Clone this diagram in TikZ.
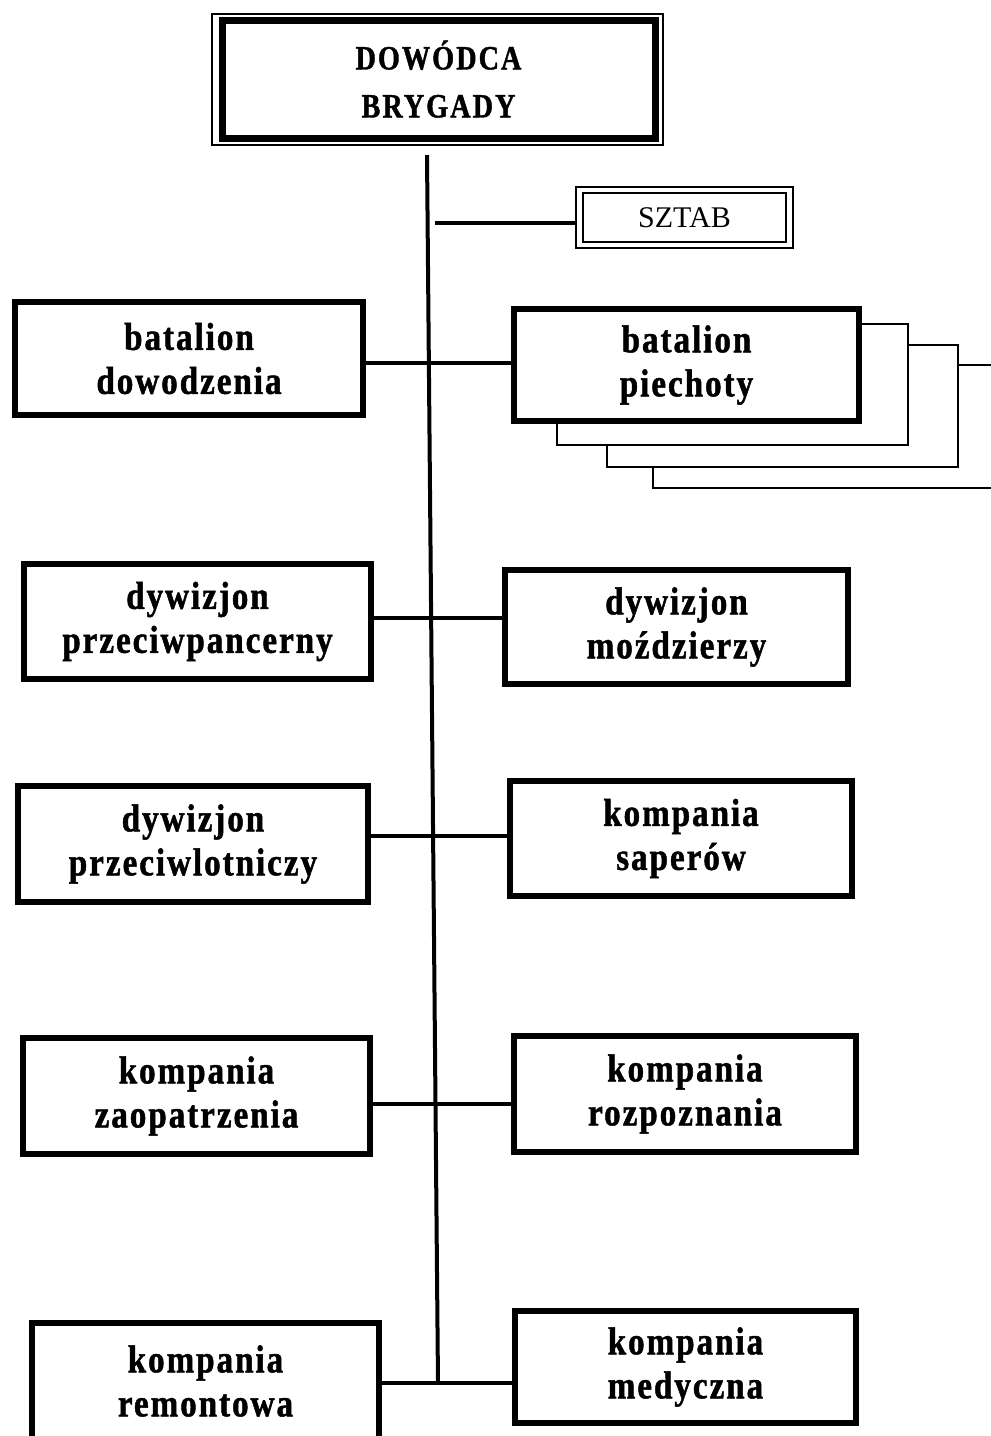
\documentclass[tikz,border=0pt]{standalone}
\usepackage{fontspec}
\setmainfont{Liberation Serif}
\newfontfamily\boxfont[LetterSpace=5,FakeStretch=0.85,BoldFeatures={FakeBold=1.2}]{Liberation Serif}
\newfontfamily\cmdfont[LetterSpace=6,FakeStretch=0.83,BoldFeatures={FakeBold=1.2}]{Liberation Serif}
\begin{document}
\begin{tikzpicture}[x=0.5pt,y=-0.5pt,
  unit/.style={draw,line width=2.6pt,fill=white,align=center,inner sep=0pt,
    font=\boxfont\bfseries\fontsize{19.5}{22}\selectfont},
  link/.style={line width=2pt},
  shadowbox/.style={draw,line width=0.8pt,fill=white}]
\useasboundingbox (0,0) rectangle (991,1436);
\clip (0,0) rectangle (991,1436);

% stacked copies behind "batalion piechoty"
\draw[shadowbox] (653,365) rectangle (1010,488);
\draw[shadowbox] (607,345) rectangle (958,467);
\draw[shadowbox] (557,324) rectangle (908,445);

% commander
\node[draw,line width=3.5pt,fill=white,align=center,inner sep=0pt,
  minimum width=216.5pt,minimum height=59pt,
  font=\cmdfont\bfseries\fontsize{17}{24}\selectfont] (cmd) at (438.5,79) {DOWÓDCA\\BRYGADY};
\draw[line width=1pt] ([xshift=-3.2pt,yshift=1.4pt]cmd.north west) rectangle ([xshift=2.3pt,yshift=-1.8pt]cmd.south east);

% staff
\node[draw,line width=0.9pt,fill=white,inner sep=0pt,minimum width=101.5pt,minimum height=24.5pt,
  font=\fontsize{15}{18}\selectfont] (sz) at (684.5,217.5) {SZTAB};
\draw[line width=1.1pt] ([xshift=-3pt,yshift=2.5pt]sz.north west) rectangle ([xshift=3pt,yshift=-2.5pt]sz.south east);
\coordinate (szo) at ([xshift=-3pt]sz.west);

% units
\node[unit,minimum width=174pt,minimum height=56.5pt] (bd) at (189,358.5) {batalion\\dowodzenia};
\node[unit,minimum width=172.5pt,minimum height=56pt] (bp) at (686.5,365) {batalion\\piechoty};
\node[unit,minimum width=173.5pt,minimum height=57.5pt] (dp) at (197.5,621.5) {dywizjon\\przeciwpancerny};
\node[unit,minimum width=171.5pt,minimum height=57pt] (dm) at (676.5,627) {dywizjon\\moździerzy};
\node[unit,minimum width=175pt,minimum height=58pt] (dpl) at (193,844) {dywizjon\\przeciwlotniczy};
\node[unit,minimum width=171pt,minimum height=57.5pt] (ks) at (681,838.5) {kompania\\saperów};
\node[unit,minimum width=173.5pt,minimum height=58pt] (kz) at (196.5,1096) {kompania\\zaopatrzenia};
\node[unit,minimum width=171pt,minimum height=58pt] (kr) at (685,1094) {kompania\\rozpoznania};
\node[unit,minimum width=173.5pt,minimum height=58pt] (krem) at (205.5,1381) {kompania\\remontowa};
\node[unit,minimum width=170.5pt,minimum height=56pt] (km) at (685.5,1367) {kompania\\medyczna};

% trunk
\coordinate (ttop) at (427,155);
\coordinate (tbot) at (438,1384);
\draw[link] (ttop) -- (tbot);

% connectors
\coordinate (sl) at (435,223);
\draw[link] (sl) -- (szo |- sl);
\coordinate (c1) at (429,363);
\coordinate (c2) at (431,618);
\coordinate (c3) at (432,836);
\coordinate (c4) at (435,1104);
\coordinate (c5) at (438,1383);
\draw[link] (bd.east |- c1) -- (bp.west |- c1);
\draw[link] (dp.east |- c2) -- (dm.west |- c2);
\draw[link] (dpl.east |- c3) -- (ks.west |- c3);
\draw[link] (kz.east |- c4) -- (kr.west |- c4);
\draw[link] (krem.east |- c5) -- (km.west |- c5);
\end{tikzpicture}
\end{document}
